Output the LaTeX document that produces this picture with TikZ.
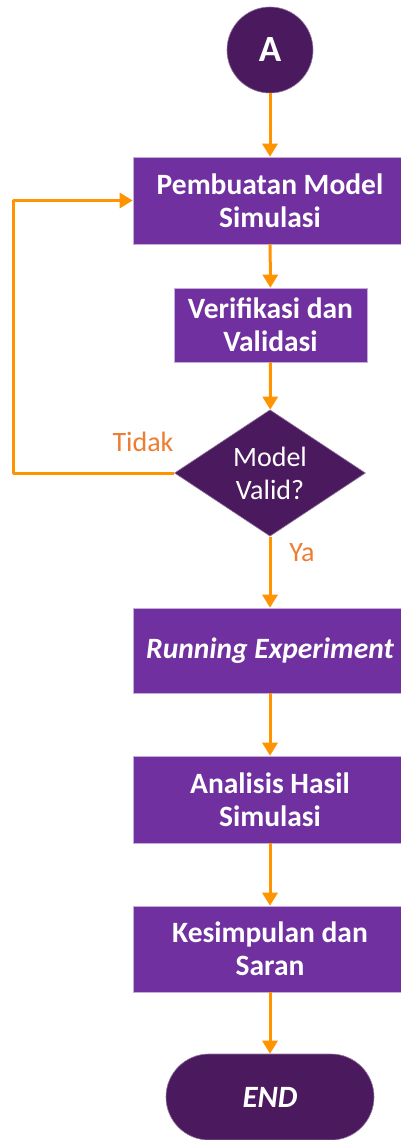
\documentclass[tikz,border=0pt]{standalone}
\usepackage{fontspec}
\setmainfont{Carlito}
\usetikzlibrary{shapes.geometric,shapes.misc,arrows.meta}
\definecolor{boxpurple}{HTML}{7030A0}
\definecolor{darkpurple}{HTML}{4B1A5E}
\definecolor{linkorange}{HTML}{FF9300}
\definecolor{labelorange}{HTML}{ED7D31}
\begin{document}
\begin{tikzpicture}[x=1pt,y=-1pt,
  stepbox/.style={rectangle,fill=boxpurple,draw=boxpurple!40!white,line width=0.6pt,text=white,
    font=\fontsize{29.5}{33}\selectfont\bfseries,align=center,inner sep=0pt},
  link/.style={draw=linkorange,line width=3pt,-{Triangle[width=15pt,length=13pt]}},
  lbl/.style={text=labelorange,font=\fontsize{28}{33}\selectfont,inner sep=0pt}]
\useasboundingbox (0,0) rectangle (401,1140);
\fill[white] (0,0) rectangle (401,1140);

\node[circle,fill=darkpurple,draw=darkpurple!60!white,line width=0.6pt,minimum size=86pt,inner sep=0pt,
  text=white,font=\fontsize{37}{40}\selectfont\bfseries] (a) at (270,50) {A};
\node[stepbox,minimum width=274pt,minimum height=87pt] (p1) at (270,200.5) {Pembuatan Model\\Simulasi};
\node[stepbox,minimum width=193pt,minimum height=74pt] (p2) at (270.5,325) {Verifikasi dan\\Validasi};
\node[diamond,fill=darkpurple,draw=darkpurple!60!white,line width=0.6pt,minimum width=191pt,minimum height=126pt,
  inner sep=0pt,text=white,align=center,font=\fontsize{28}{33}\selectfont] (d) at (270,473) {Model\\Valid?};
\node[stepbox,minimum width=274pt,minimum height=85pt] (p3) at (270,650.5) {\itshape Running Experiment};
\node[stepbox,minimum width=274pt,minimum height=87pt] (p4) at (270,799.5) {Analisis Hasil\\Simulasi};
\node[stepbox,minimum width=274pt,minimum height=86pt] (p5) at (270,949) {Kesimpulan dan\\Saran};
\node[rounded rectangle,fill=darkpurple,draw=darkpurple!60!white,line width=0.6pt,minimum width=208pt,minimum height=86pt,
  inner sep=0pt,text=white,font=\fontsize{31}{33}\selectfont\bfseries\itshape] (e) at (270,1097) {END};

\coordinate (lc) at (13,473);
\draw[link] (a) -- (p1);
\draw[link] (p1) -- (p2);
\draw[link] (p2) -- (d);
\draw[link] (d) -- (p3);
\draw[link] (p3) -- (p4);
\draw[link] (p4) -- (p5);
\draw[link] (p5) -- (e);
\draw[link,line join=round] (d.west) -- (lc) |- (p1.west);

\node[lbl] (tidak) at (143,442) {Tidak};
\node[lbl] (ya) at (302,553) {Ya};
\end{tikzpicture}
\end{document}
